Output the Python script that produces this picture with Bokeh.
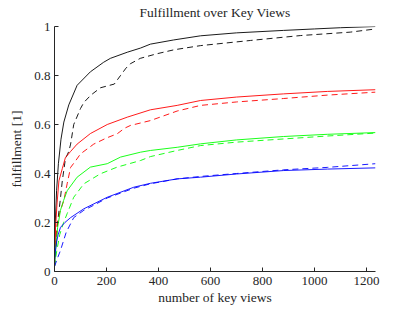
from bokeh.plotting import figure
from bokeh.models import FixedTicker, Range1d
from bokeh.embed import file_html
from bokeh.resources import INLINE

# ---- data ----
k_solid_x = [0, 3, 8, 15, 25, 36, 55, 87, 138, 189, 215, 280, 331, 369, 458, 562, 700, 881, 1000, 1100, 1235]
k_solid_y = [0.03, 0.2, 0.33, 0.44, 0.54, 0.61, 0.68, 0.76, 0.815, 0.854, 0.87, 0.895, 0.912, 0.928, 0.945, 0.962, 0.974, 0.984, 0.99, 0.995, 1.0]

k_dash_x = [0, 5, 12, 23, 30, 42, 55, 62, 74, 100, 113, 140, 177, 230, 254, 275, 292, 330, 395, 460, 562, 754, 946, 1138, 1235]
k_dash_y = [0.02, 0.1, 0.2, 0.3, 0.37, 0.46, 0.49, 0.52, 0.6, 0.665, 0.69, 0.72, 0.75, 0.765, 0.8, 0.83, 0.848, 0.87, 0.889, 0.905, 0.922, 0.943, 0.963, 0.977, 0.99]

r_solid_x = [0, 4, 10, 17, 30, 42, 62, 87, 138, 203, 280, 369, 472, 562, 700, 881, 1050, 1235]
r_solid_y = [0.03, 0.18, 0.28, 0.37, 0.42, 0.465, 0.49, 0.52, 0.563, 0.60, 0.63, 0.66, 0.678, 0.698, 0.712, 0.725, 0.735, 0.742]

r_dash_x = [0, 5, 10, 20, 36, 49, 62, 80, 100, 151, 200, 241, 270, 292, 369, 472, 562, 700, 881, 1050, 1235]
r_dash_y = [0.02, 0.12, 0.19, 0.24, 0.29, 0.36, 0.425, 0.45, 0.48, 0.52, 0.545, 0.562, 0.585, 0.596, 0.616, 0.655, 0.678, 0.692, 0.706, 0.72, 0.732]

g_solid_x = [0, 5, 12, 23, 35, 49, 87, 138, 203, 254, 331, 369, 472, 562, 700, 881, 1050, 1235]
g_solid_y = [0.02, 0.1, 0.18, 0.25, 0.29, 0.33, 0.385, 0.426, 0.44, 0.467, 0.487, 0.494, 0.507, 0.521, 0.537, 0.551, 0.56, 0.567]

g_dash_x = [0, 8, 20, 35, 49, 74, 113, 177, 241, 331, 369, 472, 562, 700, 881, 1050, 1235]
g_dash_y = [0.02, 0.08, 0.15, 0.2, 0.237, 0.303, 0.358, 0.399, 0.426, 0.453, 0.469, 0.494, 0.514, 0.528, 0.541, 0.553, 0.565]

b_solid_x = [0, 3, 8, 14, 23, 40, 62, 113, 203, 305, 369, 472, 562, 700, 881, 1050, 1235]
b_solid_y = [0.04, 0.08, 0.12, 0.15, 0.18, 0.20, 0.22, 0.256, 0.303, 0.344, 0.36, 0.378, 0.385, 0.398, 0.412, 0.418, 0.423]

b_dash_x = [0, 10, 23, 45, 74, 113, 150, 203, 305, 369, 472, 562, 700, 881, 1050, 1235]
b_dash_y = [0.02, 0.05, 0.086, 0.16, 0.22, 0.25, 0.27, 0.30, 0.34, 0.358, 0.378, 0.388, 0.4, 0.415, 0.425, 0.44]

x_ticks = [0, 200, 400, 600, 800, 1000, 1200]
y_ticks = [0, 0.2, 0.4, 0.6, 0.8, 1]
y_tick_labels = {0: "0", 0.2: "0.2", 0.4: "0.4", 0.6: "0.6", 0.8: "0.8", 1: "1"}

FONT = "Liberation Serif"
AX = "#262626"

p = figure(frame_width=321, frame_height=245, output_backend="svg", toolbar_location=None,
           x_range=Range1d(0, 1235), y_range=Range1d(0, 1),
           min_border_left=54, min_border_right=24, min_border_top=26, min_border_bottom=38)

p.title.text = "Fulfillment over Key Views"
p.title.align = "center"
p.title.vertical_align = "top"
p.title.text_font = FONT
p.title.text_font_size = "13.5px"
p.title.text_font_style = "normal"
p.title.text_color = AX
p.title.standoff = 9
p.title.offset = 0

p.grid.visible = False
p.outline_line_color = None
p.background_fill_color = "white"
p.border_fill_color = "white"

for ax in (p.xaxis[0], p.yaxis[0]):
    ax.axis_line_color = AX
    ax.major_tick_line_color = AX
    ax.major_tick_in = 4
    ax.major_tick_out = 0
    ax.minor_tick_line_color = None
    ax.major_label_text_font = FONT
    ax.major_label_text_font_size = "13px"
    ax.major_label_text_color = AX
    ax.axis_label_text_font = FONT
    ax.axis_label_text_font_size = "13.5px"
    ax.axis_label_text_font_style = "normal"
    ax.axis_label_text_color = AX

p.xaxis.ticker = FixedTicker(ticks=x_ticks)
p.yaxis.ticker = FixedTicker(ticks=y_ticks)
p.yaxis.major_label_overrides = y_tick_labels
p.xaxis.axis_label = "number of key views"
p.yaxis.axis_label = "fulfillment [1]"
p.xaxis.major_label_standoff = 5
p.yaxis.major_label_standoff = 4
p.xaxis.axis_label_standoff = 2
p.yaxis.axis_label_standoff = 7

LW = 0.9
DASH = "6 4"
series = [
    (k_solid_x, k_solid_y, "#000000", "solid"),
    (k_dash_x, k_dash_y, "#000000", DASH),
    (r_solid_x, r_solid_y, "#ff0000", "solid"),
    (r_dash_x, r_dash_y, "#ff0000", DASH),
    (g_solid_x, g_solid_y, "#00ff00", "solid"),
    (g_dash_x, g_dash_y, "#00ff00", DASH),
    (b_solid_x, b_solid_y, "#0000ff", "solid"),
    (b_dash_x, b_dash_y, "#0000ff", DASH),
]
for xs, ys, c, d in series:
    p.line(xs, ys, line_color=c, line_width=LW, line_dash=d)

open("out.html", "w").write(file_html(p, INLINE))
